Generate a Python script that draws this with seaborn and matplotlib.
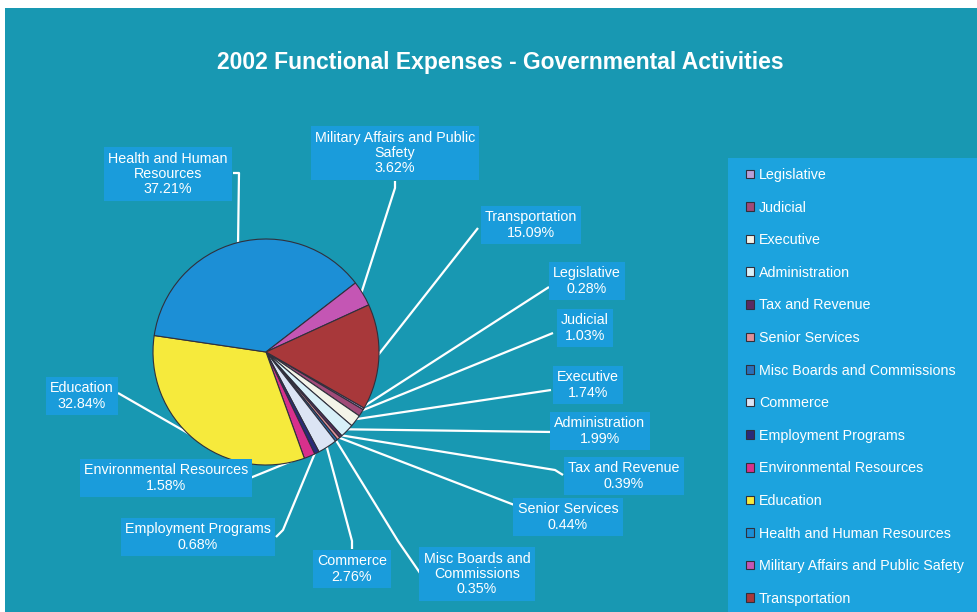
import matplotlib
matplotlib.use("Agg")
import matplotlib.pyplot as plt
import seaborn as sns
from matplotlib.patches import Rectangle
import numpy as np

# ---------------- data ----------------
categories = ["Legislative", "Judicial", "Executive", "Administration", "Tax and Revenue",
              "Senior Services", "Misc Boards and Commissions", "Commerce",
              "Employment Programs", "Environmental Resources", "Education",
              "Health and Human Resources", "Military Affairs and Public Safety",
              "Transportation"]
percentages = [0.28, 1.03, 1.74, 1.99, 0.39, 0.44, 0.35, 2.76, 0.68, 1.58,
               32.84, 37.21, 3.62, 15.09]
label_names = ["Legislative", "Judicial", "Executive", "Administration", "Tax and Revenue",
               "Senior Services", "Misc Boards and\nCommissions", "Commerce",
               "Employment Programs", "Environmental Resources", "Education",
               "Health and Human\nResources", "Military Affairs and Public\nSafety",
               "Transportation"]
title = "2002 Functional Expenses - Governmental Activities"

# ---------------- style ----------------
sns.set_theme(style="white")
plt.rcParams["font.family"] = ["Liberation Sans", "DejaVu Sans"]

slice_colors = ["#b8a0d8", "#a04a78", "#f4f4e8", "#d8f0f8", "#5a2a60", "#e09098",
                "#2a70b8", "#dce4f4", "#2a2a78", "#d8308c", "#f6ea3c", "#1c8fd6",
                "#c456b4", "#a8383a"]
teal = "#1898b2"
box_blue = "#1a9cdb"
legend_blue = "#1ca3de"

W, H = 977, 612
fy = lambda y: H - y

# label layout (image pixel coords): center, anchor, optional elbow
label_centers = [(587, 281), (585, 328), (588, 385), (600, 431), (624, 476),
                 (568, 517), (477, 574), (352, 569), (198, 537), (166, 478),
                 (82, 396), (168, 174), (395, 153), (531, 225)]
anchors = [(549, 287), (553, 333), (551, 390), (553, 432), (563, 475),
           (530, 511), (420, 573), (352, 549), (276, 537), (250, 478),
           (118, 393), (233, 173), (395, 181), (478, 228)]
elbows = [None, None, None, None, (555, 470), None, (398, 541), (352, 541),
          (283, 530), None, None, (239, 173), (395, 188), None]

cx, cy, R = 266, 352, 113

fig = plt.figure(figsize=(W / 100, H / 100), dpi=100, facecolor="white")
ax = fig.add_axes([0, 0, 1, 1])

ax.add_patch(Rectangle((5, 0), W - 5, H - 8, facecolor=teal, edgecolor="none", zorder=0))
ax.add_patch(Rectangle((728, 0), W - 728, H - 158, facecolor=legend_blue,
                       edgecolor="none", zorder=0.2))

wedges, _ = ax.pie(percentages, colors=slice_colors, startangle=-29.7, counterclock=False,
                   center=(cx, fy(cy)), radius=R,
                   wedgeprops=dict(edgecolor="#30303c", linewidth=0.8, zorder=2))

for w, name, pct, (lx, ly), (axp, ayp), el in zip(wedges, label_names, percentages,
                                                    label_centers, anchors, elbows):
    mid = np.deg2rad((w.theta1 + w.theta2) / 2)
    px = cx + R * 0.98 * np.cos(mid)
    py = fy(cy) + R * 0.98 * np.sin(mid)
    xs = [px]
    ys = [py]
    if el is not None:
        xs.append(el[0]); ys.append(fy(el[1]))
    xs.append(axp); ys.append(fy(ayp))
    ax.plot(xs, ys, color="white", lw=1.6, zorder=1, solid_capstyle="butt")
    ax.text(lx, fy(ly), f"{name}\n{pct:.2f}%", ha="center", va="center", color="white",
            fontsize=10.3, linespacing=1.12, zorder=3,
            bbox=dict(boxstyle="square,pad=0.3", facecolor=box_blue, edgecolor="none"))

ax.text(500, fy(62), title, ha="center", va="center", color="white", fontsize=16.5,
        fontweight="bold", zorder=3)

leg = ax.legend(wedges, categories, loc="upper left",
                bbox_to_anchor=(746 / W, (H - 168) / H), bbox_transform=fig.transFigure,
                frameon=False, fontsize=10.3, labelcolor="white", handlelength=0.55,
                handleheight=0.55, handletextpad=0.35, labelspacing=1.3,
                borderpad=0, borderaxespad=0)

ax.set_xlim(0, W)
ax.set_ylim(0, H)
ax.set_axis_off()

fig.savefig("out.png", dpi=100, facecolor="white")
